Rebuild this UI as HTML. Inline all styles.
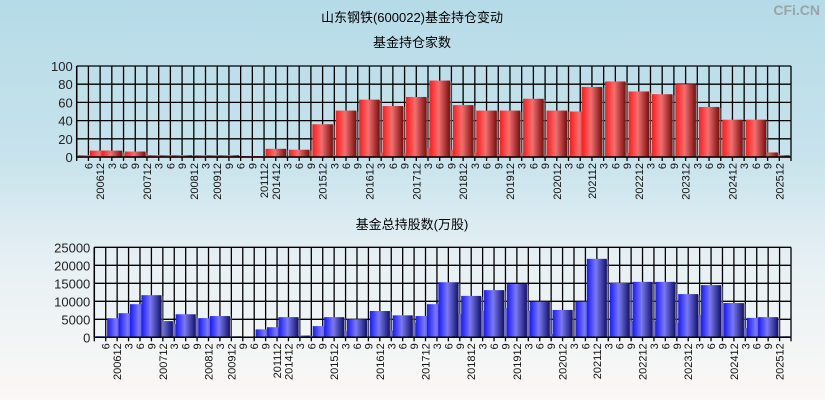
<!DOCTYPE html>
<html><head><meta charset="utf-8">
<style>
html,body{margin:0;padding:0;}
body{width:825px;height:400px;overflow:hidden;background:linear-gradient(#b5dbe8 0%,#c8e3ec 40%,#e6f0f4 65%,#fbf8f6 100%);font-family:"Liberation Sans","Noto Sans CJK SC",sans-serif;}
svg{position:absolute;left:0;top:0;}
</style></head>
<body>
<svg id="c" width="825" height="400" xmlns="http://www.w3.org/2000/svg">
<defs>
<linearGradient id="gr" x1="0" x2="1" y1="0" y2="0">
<stop offset="0" stop-color="#ff1a1a"/><stop offset="0.45" stop-color="#f07070"/><stop offset="1" stop-color="#7a0e0e"/></linearGradient>
<linearGradient id="gb" x1="0" x2="1" y1="0" y2="0">
<stop offset="0" stop-color="#1818ff"/><stop offset="0.45" stop-color="#7a7af0"/><stop offset="1" stop-color="#12126a"/></linearGradient>
</defs>
<text x="412" y="22" font-size="13" text-anchor="middle" fill="#000">山东钢铁(600022)基金持仓变动</text>
<text x="412" y="47" font-size="13" text-anchor="middle" fill="#000">基金持仓家数</text>
<text x="412" y="229" font-size="13" text-anchor="middle" fill="#000">基金总持股数(万股)</text>
<text x="820" y="15" font-size="14" font-weight="bold" text-anchor="end" fill="#9aa4a8">CFi.CN</text>
</svg>
<script>
const categories = ["6","200612","3","6","9","200712","3","6","9","200812","3","200912","9","6","9","201112","201412","3","6","9","201512","3","6","9","201612","3","6","9","201712","3","6","9","201812","3","6","9","201912","3","6","9","202012","3","6","202112","3","6","9","202212","3","6","9","202312","3","6","9","202412","3","6","9","202512"];
const fundCounts = [2,7,7,4,6,2,2,2,2,1,2,2,2,1,1,1,9,1,8,1,36,2,51,1,63,5,56,4,66,10,84,8,57,5,51,3,51,5,64,2,51,2,50,77,1,83,5,72,4,69,1,80,2,55,1,41,1,41,5,2];
const totalShares = [300,5300,6700,9200,11700,4500,3700,6400,5300,5300,5900,300,200,200,2200,2800,5600,500,400,3100,5600,1700,5000,200,7300,1900,6100,4000,5900,9200,15300,6500,11500,7300,13100,8100,14800,7300,9900,900,7600,400,9900,21800,300,15100,4500,15400,4500,15400,4000,12000,6200,14500,9500,9500,2600,5400,5600,300];
const topTicks = [0,20,40,60,80,100];
const bottomTicks = [0,5000,10000,15000,20000,25000];

const NS = "http://www.w3.org/2000/svg";
const svg = document.getElementById('c');
function mk(tag, attrs, parent){ const e=document.createElementNS(NS,tag); for(const k in attrs) e.setAttribute(k,attrs[k]); (parent||svg).appendChild(e); return e; }

function drawChart(cfg){
  const g = mk('g',{});
  
  
  const n = categories.length;
  const step = (cfg.right - cfg.left)/(n+1);
  const xOf = i => cfg.left + (i+1)*step;
  const yOf = v => cfg.bottom - (v/cfg.max)*(cfg.bottom - cfg.top);
  // horizontal grid
  cfg.ticks.forEach(t=>{
    const y=yOf(t);
    const l=mk('line',{x1:cfg.left,x2:cfg.right,y1:y,y2:y,stroke:'#000','stroke-width':1.3},g);
    
    
    const tx=mk('text',{x:cfg.left-4,y:y+5,'font-size':13,'text-anchor':'end',fill:'#222'},g);
    tx.textContent=t;
    
    
  });
  // vertical grid
  for(let i=0;i<=n+1;i++){
    const x=cfg.left+i*step;
    const l=mk('line',{x1:x,x2:x,y1:cfg.top,y2:cfg.bottom+4,stroke:'#000','stroke-width':1.3},g);
    
    
  }
  // bars in ascending value order
  const order = cfg.values.map((v,i)=>i).sort((a,b)=>cfg.values[a]-cfg.values[b]);
  const bw = step*1.75;
  order.forEach(i=>{
    const v=cfg.values[i]; const y=yOf(v); const x=xOf(i)-bw/2;
    const sh=mk('rect',{x:x+2,y:y+1,width:bw,height:Math.max(0,cfg.bottom-y-1),fill:'#777','fill-opacity':0.6},g);
    
    
    const r=mk('rect',{x:x,y:y,width:bw,height:Math.max(0,cfg.bottom-y),fill:cfg.fill},g);
    
    
  });
  // axes
  const ax=mk('line',{x1:cfg.left,x2:cfg.right,y1:cfg.bottom,y2:cfg.bottom,stroke:'#000','stroke-width':1.5},g);
  
  
  const ay=mk('line',{x1:cfg.left,x2:cfg.left,y1:cfg.top,y2:cfg.bottom,stroke:'#000','stroke-width':1.5},g);
  
  
  // x labels
  categories.forEach((c,i)=>{
    const x=xOf(i)+4, y=cfg.bottom+6;
    const t=mk('text',{x:x,y:y,'font-size':11,'text-anchor':'end',fill:'#111',transform:`rotate(-90 ${x} ${y})`},g);
    t.textContent=c;
    
    
  });
}
drawChart({name:'fund-count-chart',left:76.7,right:791,top:66,bottom:157,max:100,ticks:topTicks,values:fundCounts,fill:'url(#gr)'});
drawChart({name:'total-shares-chart',left:94.3,right:791,top:247.3,bottom:337.3,max:25000,ticks:bottomTicks,values:totalShares,fill:'url(#gb)'});
</script>
</body></html>
